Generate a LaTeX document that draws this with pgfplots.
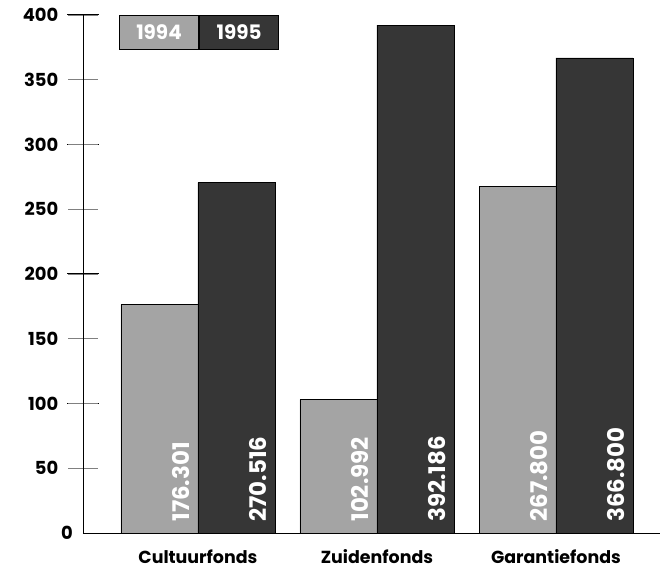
\documentclass[border=0pt]{standalone}
\usepackage{fontspec}
\setmainfont{Poppins}
\usepackage{pgfplots}
\pgfplotsset{compat=1.18}
\definecolor{c94}{HTML}{A4A4A4}
\definecolor{c95}{HTML}{363636}
\begin{document}
\begin{tikzpicture}
\path[use as bounding box] (-83bp,-37bp) rectangle (579bp,533bp);
\begin{axis}[
  scale only axis, width=577bp, height=518bp,
  at={(0,0)}, anchor=south west,
  ymin=0, ymax=400, xmin=-0.642, xmax=2.581,
  axis lines=left, axis line style={-, line width=1pt},
  ybar=0pt, bar width=0.43,
  xtick={0,1,2}, xticklabels={Cultuurfonds,Zuidenfonds,Garantiefonds},
  xtick style={draw=none},
  ytick={50,100,...,400},
  minor ytick={100,200,300,400},
  extra y ticks={0}, extra y tick style={major tick length=0pt},
  tick align=center, major tick length=29bp, minor tick length=31bp,
  major tick style={gray, line width=0.6pt},
  minor tick style={black, line width=1pt},
  /pgf/number format/assume math mode=true,
  yticklabel style={font=\bfseries\fontsize{18}{18}\selectfont, anchor=east, inner sep=0pt, xshift=-10bp},
  xticklabel style={font=\bfseries\fontsize{17.5}{17.5}\selectfont, anchor=north, inner sep=0pt, yshift=-2bp},
  point meta=explicit symbolic,
  visualization depends on={y \as \rawy},
  nodes near coords,
  every node near coord/.append style={shift={(axis direction cs:0,-\rawy)}, xshift=30bp, yshift=11bp, rotate=90, anchor=base west, inner sep=0pt, text=white, font=\bfseries\fontsize{23}{23}\selectfont},
]
\addplot[fill=c94, draw=black, line width=0.8pt] coordinates {(0,176.301)[176.301] (1,102.992)[102.992] (2,267.800)[267.800]};
\addplot[fill=c95, draw=black, line width=0.8pt] coordinates {(0,270.516)[270.516] (1,392.186)[392.186] (2,366.800)[366.800]};
\node[draw=black, line width=1pt, fill=c94, minimum width=79bp, minimum height=34bp, inner sep=0pt, anchor=north west, text=white, font=\bfseries\fontsize{20}{20}\selectfont] (l1) at (rel axis cs:0.0624,1.0) {1994};
\node[draw=black, line width=1pt, fill=c95, minimum width=79bp, minimum height=34bp, inner sep=0pt, anchor=north west, text=white, font=\bfseries\fontsize{20}{20}\selectfont] at (l1.north east) {1995};
\end{axis}
\end{tikzpicture}
\end{document}
